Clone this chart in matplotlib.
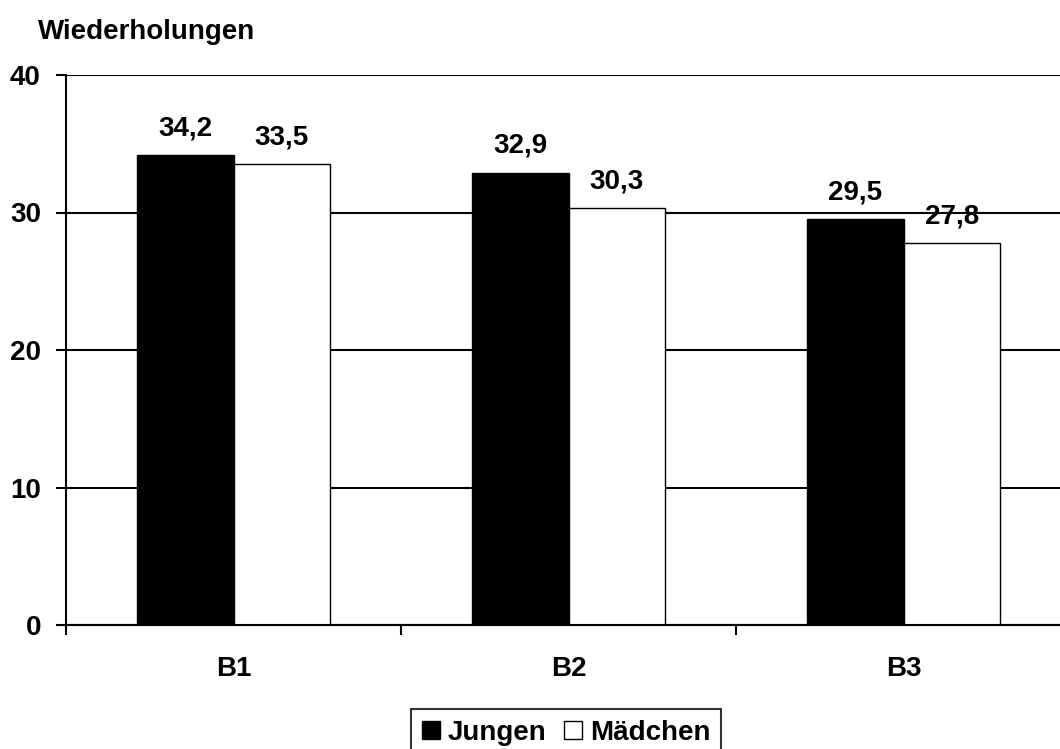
import matplotlib
matplotlib.use("Agg")
import matplotlib.pyplot as plt
from matplotlib.lines import Line2D
import numpy as np

categories = ["B1", "B2", "B3"]
jungen = [34.2, 32.9, 29.5]
maedchen = [33.5, 30.3, 27.8]
series_names = ["Jungen", "Mädchen"]
yticks = [0, 10, 20, 30, 40]

plt.rcParams['font.family'] = ['Liberation Sans', 'DejaVu Sans']
plt.rcParams['font.weight'] = 'bold'

W, H = 1060, 749
fig = plt.figure(figsize=(W/100, H/100), dpi=100)
ax = fig.add_axes([66/W, 1-625/H, 1005/W, 550/H])

x = np.arange(len(categories))
bw = 0.288
ax.bar(x - bw/2, jungen, bw, color='black', edgecolor='black', linewidth=1, zorder=2)
ax.bar(x + bw/2, maedchen, bw, color='white', edgecolor='black', linewidth=1, zorder=2)

for xi, v in zip(x - bw/2, jungen):
    ax.text(xi, v + 1.0, f"{v:.1f}".replace('.', ','), ha='center', va='bottom',
            fontsize=20, fontweight='bold', zorder=0.4)
for xi, v in zip(x + bw/2, maedchen):
    ax.text(xi, v + 1.0, f"{v:.1f}".replace('.', ','), ha='center', va='bottom',
            fontsize=20, fontweight='bold', zorder=0.4)

ax.set_xlim(-0.5, len(categories) - 0.5)
ax.set_ylim(0, 40)
ax.set_yticks(yticks)
ax.set_yticklabels([str(t) for t in yticks], fontsize=20, fontweight='bold')
ax.set_xticks(x)
ax.set_xticklabels(categories, fontsize=20, fontweight='bold')
ax.tick_params(axis='x', length=0, pad=22)
ax.set_xticks(np.arange(len(categories)) - 0.5, minor=True)
ax.tick_params(axis='x', which='minor', length=7, width=1.5, direction='out')
ax.tick_params(axis='y', length=7, width=1.5, direction='out', pad=11)

ax.set_axisbelow(True)
ax.yaxis.grid(True, color='black', linewidth=1.5)
for s in ['top', 'right']:
    ax.spines[s].set_visible(False)
ax.spines['left'].set_linewidth(1.5)
ax.spines['bottom'].set_linewidth(1.5)

fig.text(38/W, 1-32/H, "Wiederholungen", fontsize=20, fontweight='bold', va='center', ha='left')

handles = [Line2D([], [], marker='s', linestyle='none', markersize=13,
                  markerfacecolor='black', markeredgecolor='black'),
           Line2D([], [], marker='s', linestyle='none', markersize=13,
                  markerfacecolor='white', markeredgecolor='black', markeredgewidth=1)]
leg = fig.legend(handles, series_names, loc='upper center', bbox_to_anchor=(566/W, 1-709/H),
                 ncol=2, frameon=True, fancybox=False, handlelength=0.7, handletextpad=0.25,
                 columnspacing=0.6, borderpad=0.4, borderaxespad=0,
                 prop={'size': 20, 'weight': 'bold'})
leg.get_frame().set_edgecolor('black')
leg.get_frame().set_linewidth(1.5)

fig.savefig("out.png", dpi=100)
